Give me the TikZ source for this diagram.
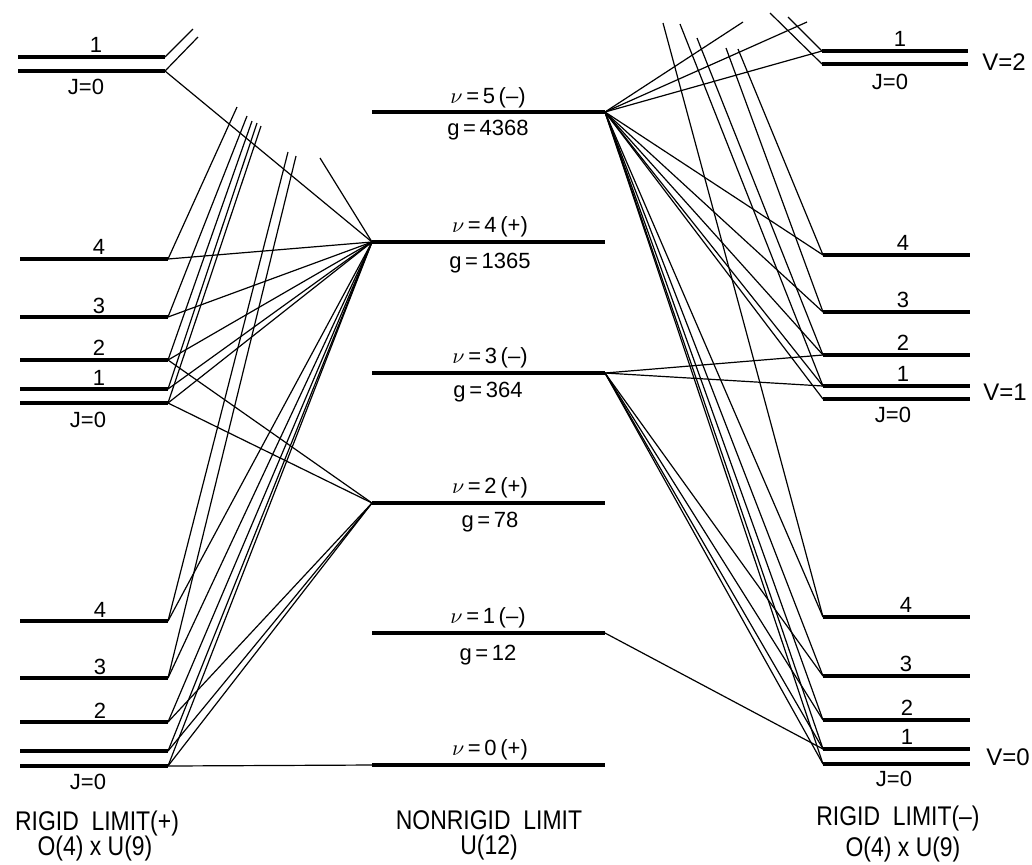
\documentclass[tikz,border=0pt]{standalone}
\usepackage{fontspec}
\setmainfont{Liberation Sans}
\newfontfamily\titlefont{Liberation Sans}[FakeStretch=0.85]
\begin{document}
\begin{tikzpicture}[x=0.5pt,y=-0.5pt,
  level/.style={line width=1.9pt},
  link/.style={line width=0.6pt},
  lab/.style={font=\fontsize{11}{13}\selectfont, inner sep=0pt},
  title/.style={font=\titlefont\fontsize{13.5}{15}\selectfont, inner sep=0pt}]
  \useasboundingbox (0,0) rectangle (1032,864);
  \foreach \j/\y in {0/766,1/751,2/722,3/678,4/621} {
    \coordinate (la0\j) at (20,\y);
    \coordinate (l0\j) at (168,\y);
    \draw[level] (la0\j) -- (l0\j);
  }
  \foreach \j/\y in {0/403,1/389,2/360,3/317,4/259} {
    \coordinate (la1\j) at (20,\y);
    \coordinate (l1\j) at (168,\y);
    \draw[level] (la1\j) -- (l1\j);
  }
  \foreach \j/\y in {0/71,1/57} {
    \coordinate (la2\j) at (18,\y);
    \coordinate (l2\j) at (165,\y);
    \draw[level] (la2\j) -- (l2\j);
  }
  \foreach \j/\y in {0/764,1/749,2/720,3/676,4/617} {
    \coordinate (r0\j) at (823,\y);
    \coordinate (rb0\j) at (970,\y);
    \draw[level] (r0\j) -- (rb0\j);
  }
  \foreach \j/\y in {0/399,1/386,2/355,3/312,4/255} {
    \coordinate (r1\j) at (823,\y);
    \coordinate (rb1\j) at (970,\y);
    \draw[level] (r1\j) -- (rb1\j);
  }
  \foreach \j/\y in {0/64,1/51} {
    \coordinate (r2\j) at (822,\y);
    \coordinate (rb2\j) at (968,\y);
    \draw[level] (r2\j) -- (rb2\j);
  }
  \foreach \v/\y in {0/765,1/633,2/503,3/373,4/242,5/112} {
    \coordinate (n\v l) at (372,\y);
    \coordinate (n\v r) at (605,\y);
    \draw[level] (n\v l) -- (n\v r);
  }
  \coordinate (cl1) at (193,29);
  \coordinate (cl2) at (198,37);
  \coordinate (cl3) at (320,158);
  \coordinate (cl4) at (237,107);
  \coordinate (cl5) at (247,116);
  \coordinate (cl6) at (252,121);
  \coordinate (cl7) at (257,123);
  \coordinate (cl8) at (261,126);
  \coordinate (cl9) at (288,152);
  \coordinate (cl10) at (296,156);
  \coordinate (cr1) at (743,22);
  \coordinate (cr2) at (807,22);
  \coordinate (cr3) at (770,13);
  \coordinate (cr4) at (788,17);
  \coordinate (cr5) at (663,23);
  \coordinate (cr6) at (680,24);
  \coordinate (cr7) at (697,38);
  \coordinate (cr8) at (726,48);
  \coordinate (cr9) at (738,49);
  \draw[link] (l21) -- (cl1);
  \draw[link] (l20) -- (cl2);
  \draw[link] (l20) -- (n4l);
  \draw[link] (cl3) -- (n4l);
  \foreach \j/\c in {4/cl4,3/cl5,2/cl6,1/cl7,0/cl8} {
    \draw[link] (l1\j) -- (n4l);
    \draw[link] (l1\j) -- (\c);
  }
  \draw[link] (l12) -- (n2l);
  \draw[link] (l10) -- (n2l);
  \foreach \j in {0,...,4} \draw[link] (l0\j) -- (n4l);
  \draw[link] (l04) -- (cl9);
  \draw[link] (l03) -- (cl10);
  \foreach \j in {0,1,2} \draw[link] (l0\j) -- (n2l);
  \draw[link] (l00) -- (n0l);
  \draw[link] (n5r) -- (cr1);
  \draw[link] (n5r) -- (cr2);
  \draw[link] (n5r) -- (r21);
  \draw[link] (cr3) -- (r20);
  \draw[link] (cr4) -- (r21);
  \foreach \j in {0,...,4} {
    \draw[link] (n5r) -- (r1\j);
    \draw[link] (n5r) -- (r0\j);
  }
  \draw[link] (n3r) -- (r12);
  \draw[link] (n3r) -- (r11);
  \foreach \j in {0,...,3} \draw[link] (n3r) -- (r0\j);
  \draw[link] (n1r) -- (r01);
  \draw[link] (cr5) -- (r04);
  \draw[link] (cr6) -- (r11);
  \draw[link] (cr7) -- (r12);
  \draw[link] (cr8) -- (r13);
  \draw[link] (cr9) -- (r14);
  \node[lab] at (96,45) {1};
  \node[lab] at (86,87) {J=0};
  \node[lab] at (99,247) {4};
  \node[lab] at (99,306) {3};
  \node[lab] at (99,348) {2};
  \node[lab] at (99,378) {1};
  \node[lab] at (88,420) {J=0};
  \node[lab] at (100,610) {4};
  \node[lab] at (100,667) {3};
  \node[lab] at (100,711) {2};
  \node[lab] at (88,782) {J=0};
  \node[lab] at (900,39) {1};
  \node[lab] at (890,82) {J=0};
  \node[lab] at (903,243) {4};
  \node[lab] at (903,300) {3};
  \node[lab] at (903,343) {2};
  \node[lab] at (903,374) {1};
  \node[lab] at (893,415) {J=0};
  \node[lab] at (906,605) {4};
  \node[lab] at (906,664) {3};
  \node[lab] at (907,708) {2};
  \node[lab] at (907,737) {1};
  \node[lab] at (894,779) {J=0};
  \node[lab, font=\fontsize{12}{14}\selectfont] at (1004,62) {V=2};
  \node[lab, font=\fontsize{12}{14}\selectfont] at (1005,392) {V=1};
  \node[lab, font=\fontsize{12}{14}\selectfont] at (1008,757) {V=0};
  \node[lab] at (488,98) {$\nu$\,=\,5\,(\textendash)};
  \node[lab] at (488,130) {g\,=\,4368};
  \node[lab] at (490,227) {$\nu$\,=\,4\,(+)};
  \node[lab] at (490,263) {g\,=\,1365};
  \node[lab] at (490,358) {$\nu$\,=\,3\,(\textendash)};
  \node[lab] at (488,392) {g\,=\,364};
  \node[lab] at (490,488) {$\nu$\,=\,2\,(+)};
  \node[lab] at (490,522) {g\,=\,78};
  \node[lab] at (488,618) {$\nu$\,=\,1\,(\textendash)};
  \node[lab] at (488,655) {g\,=\,12};
  \node[lab] at (490,750) {$\nu$\,=\,0\,(+)};
  \node[title] at (97,823) {RIGID\ \ LIMIT(+)};
  \node[title] at (95,848) {O(4) x U(9)};
  \node[title] at (489,820) {NONRIGID\ \ LIMIT};
  \node[title] at (489,847) {U(12)};
  \node[title] at (898,818) {RIGID\ \ LIMIT(\textendash)};
  \node[title] at (903,849) {O(4) x U(9)};
\end{tikzpicture}
\end{document}
